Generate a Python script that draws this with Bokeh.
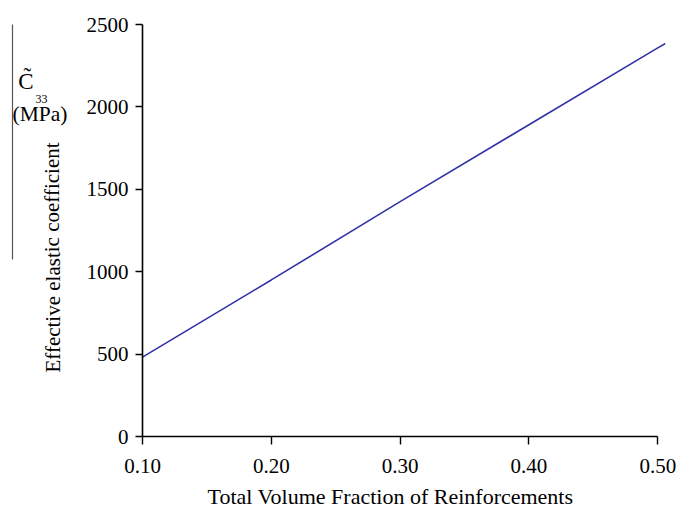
from bokeh.plotting import figure
from bokeh.models import Label, Range1d, FixedTicker, NumeralTickFormatter, LinearAxis
from bokeh.embed import file_html
from bokeh.resources import INLINE

# data
volume_fraction = [0.10, 0.20, 0.30, 0.40, 0.50, 0.506]
c33_mpa = [482, 950, 1425, 1892, 2358, 2385]
x_ticks = [0.10, 0.20, 0.30, 0.40, 0.50]
y_ticks = [0, 500, 1000, 1500, 2000, 2500]

W, H = 679, 510
p = figure(width=W, height=H, output_backend="svg", toolbar_location=None,
           x_range=Range1d(0.10, 0.506), y_range=Range1d(0, 2500),
           min_border_left=142, min_border_right=14, min_border_top=23, min_border_bottom=74)
p.outline_line_color = None
p.xgrid.visible = False
p.ygrid.visible = False

p.line(volume_fraction, c33_mpa, line_color="#3232a8", line_width=1.6)

font = "Liberation Serif"
for ax in (p.xaxis[0], p.yaxis[0]):
    ax.axis_line_color = "black"
    ax.axis_line_width = 1.6
    ax.major_tick_line_color = "black"
    ax.major_tick_line_width = 1.4
    ax.major_tick_in = 0
    ax.minor_tick_line_color = None
    ax.major_label_text_font = font
    ax.major_label_text_font_size = "21px"
    ax.major_label_text_color = "black"

p.xaxis[0].ticker = FixedTicker(ticks=x_ticks)
p.xaxis[0].formatter = NumeralTickFormatter(format="0.00")
p.xaxis[0].bounds = (0.10, 0.50)
p.xaxis[0].major_tick_out = 8
p.xaxis[0].major_label_standoff = 14
p.yaxis[0].ticker = FixedTicker(ticks=y_ticks)
p.yaxis[0].major_tick_out = 7
p.yaxis[0].major_label_standoff = 7


def lab(text, x, y, size, place, angle=0, align="left", baseline="middle", lh=1.2, pad=0):
    l = Label(x=x, y=y, x_units="canvas", y_units="canvas", text=text,
              text_font=font, text_font_size=size, text_color="black",
              text_align=align, text_baseline=baseline, angle=angle,
              text_line_height=lh, padding=pad)
    p.add_layout(l, place)

# titles placed in side panels (so they are not clipped by the frame)
lab("Effective elastic coefficient", 52, 257, "21px", "left", angle=1.5708,
    align="center", baseline="alphabetic")
lab("C\u0303", 25.5, 80.5, "23px", "left", align="center", pad=16)
lab("(MPa)", 12, 113, "21.5px", "above", lh=0.9)
lab("33", 35, 98.5, "12px", "right")
lab("Total Volume Fraction of Reinforcements", 390, 496, "22px", "below",
    align="center", baseline="alphabetic")

# bracket rule at the far left
p.extra_y_ranges = {"bracket": Range1d(0, 1)}
rule = LinearAxis(y_range_name="bracket", ticker=FixedTicker(ticks=[]),
                  major_tick_out=0, major_tick_in=0, minor_tick_out=0,
                  major_label_text_font_size="0px",
                  axis_line_color="#555555", axis_line_width=1.2,
                  bounds=(0.43, 1.0))
p.add_layout(rule, "left")

open("out.html", "w").write(file_html(p, INLINE))
